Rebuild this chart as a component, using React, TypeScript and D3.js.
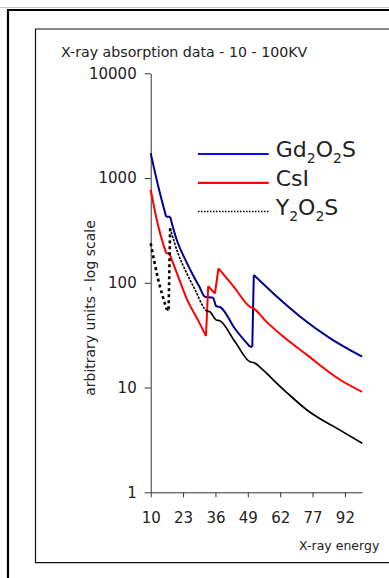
import { useEffect, useRef } from "react";
import * as d3 from "d3";

// energy (keV) tick labels on the category-style x axis
const energyTicks = [10, 23, 36, 49, 62, 77, 92];
const energyEnd = 100;
const valueTicks = [1, 10, 100, 1000, 10000];

// [energy, absorption]
const gd2o2s: [number, number][] = [
  [10, 1722], [13, 840], [16.2, 428], [17.8, 428], [20.5, 255], [23.8, 168], [27, 118],
  [29.5, 92], [31.8, 73.6], [35.0, 72], [36.3, 60], [38.2, 58], [44, 36], [49.9, 24.5],
  [50.8, 24.5], [51.4, 118.7], [59.3, 79], [71.3, 47.5], [85.2, 29.5], [100, 19.7]
];

const csi: [number, number][] = [
  [10, 773], [13, 350], [16.2, 191], [17.5, 191], [21, 115], [25, 66], [29, 44],
  [32.2, 31], [33.1, 93], [35.8, 79], [37.2, 137], [43.3, 92], [49.9, 59], [51.3, 57],
  [56.4, 42.6], [62, 32.5], [74.4, 20.5], [89.9, 11.8], [100, 9.1]
];

const y2o2s: [number, number][] = [
  [10, 238], [13, 108], [16.4, 55.8], [17.2, 55.8], [17.8, 331], [21, 190], [24.5, 123],
  [28, 84], [31.1, 59], [32.2, 54], [33.8, 52.8], [36.3, 44.2], [37.8, 43.4], [44, 27],
  [49.9, 17.6], [51.4, 17.3], [55.2, 14.7], [59.3, 11.8], [66, 8.6], [74.4, 6.1],
  [89.9, 3.9], [100, 2.94]
];

const legendItems = [
  { sub: ["Gd", "2", "O", "2", "S"], color: "#0a0ae0", dash: null },
  { sub: ["CsI"], color: "#ff0000", dash: null },
  { sub: ["Y", "2", "O", "2", "S"], color: "#000000", dash: "1.5,1.5" }
];

// split a series into falling runs so the absorption edges stay sharp
function runs(data: [number, number][]) {
  const out: [number, number][][] = [[data[0]]];
  for (let i = 1; i < data.length; i++) {
    const cur = out[out.length - 1];
    if (data[i][1] < data[i - 1][1]) cur.push(data[i]);
    else out.push([data[i - 1], data[i]], [data[i]]);
  }
  return out.filter(r => r.length > 1);
}

export default function App() {
  const ref = useRef<HTMLDivElement>(null);

  useEffect(() => {
    const width = 389;
    const height = 578;
    const font = "'DejaVu Sans', sans-serif";

    document.body.style.margin = "0";
    document.body.style.overflow = "hidden";

    const x0 = 150.7;
    const step = 32.37;
    const xDomain = [...energyTicks, energyEnd];
    const xRange = xDomain.map((d, i) =>
      i < energyTicks.length ? x0 + i * step : x0 + (i - 1 + (energyEnd - 92) / 15) * step
    );
    const x = d3.scaleLinear().domain(xDomain).range(xRange);
    const y = d3.scaleLog().domain([1, 10000]).range([492.3, 73.3]);

    const svg = d3.select(ref.current)
      .append("svg")
      .attr("width", width)
      .attr("height", height)
      .style("display", "block")
      .style("overflow", "hidden")
      .style("background", "#fff");

    // frames
    svg.append("line").attr("x1", 0).attr("x2", width).attr("y1", 7.5).attr("y2", 7.5)
      .attr("stroke", "#c8c8c8").attr("stroke-width", 1);
    svg.append("path").attr("d", `M${width + 5},10H8V${height + 5}`)
      .attr("fill", "none").attr("stroke", "#000").attr("stroke-width", 2.2);
    svg.append("path").attr("d", `M${width + 5},29H35.5V562.7H${width + 5}`)
      .attr("fill", "none").attr("stroke", "#111").attr("stroke-width", 1.2);

    svg.append("text")
      .attr("x", 61).attr("y", 57.3)
      .attr("font-family", font).attr("font-size", 14.2).attr("fill", "#222")
      .text("X-ray absorption data - 10 - 100KV");

    const yAxis = d3.axisLeft(y).tickValues(valueTicks).tickFormat(d3.format("d"))
      .tickSize(6).tickSizeOuter(0).tickPadding(8);
    const gy = svg.append("g").attr("transform", `translate(${x0},0)`).call(yAxis);

    const xAxis = d3.axisBottom(x).tickValues(energyTicks).tickFormat(d3.format("d"))
      .tickSize(5).tickSizeOuter(0).tickPadding(15);
    const gx = svg.append("g").attr("transform", `translate(0,${y(1)})`).call(xAxis);

    [gx, gy].forEach(g => {
      g.select(".domain").attr("stroke", "#333");
      g.selectAll(".tick line").attr("stroke", "#333");
      g.selectAll("text").attr("font-family", font).attr("font-size", 15).attr("fill", "#222");
    });

    svg.append("text")
      .attr("x", 379.3).attr("y", 549.5).attr("text-anchor", "end")
      .attr("font-family", font).attr("font-size", 12.5).attr("fill", "#222")
      .text("X-ray energy");

    svg.append("text")
      .attr("transform", `translate(95,308) rotate(-90)`)
      .attr("text-anchor", "middle")
      .attr("font-family", font).attr("font-size", 14).attr("fill", "#222")
      .text("arbitrary units - log scale");

    const line = d3.line<[number, number]>()
      .x(d => x(d[0])).y(d => y(d[1]))
      .curve(d3.curveMonotoneX);
    const pathOf = (data: [number, number][]) => runs(data).map(r => line(r)).join("");

    svg.append("path").attr("d", pathOf(gd2o2s))
      .attr("fill", "none").attr("stroke", "#00008b").attr("stroke-width", 2)
      .attr("stroke-linejoin", "round");
    svg.append("path").attr("d", pathOf(csi))
      .attr("fill", "none").attr("stroke", "#ff0000").attr("stroke-width", 2)
      .attr("stroke-linejoin", "round");

    // Y2O2S: dotted line that renders heavy at the start and solid later
    svg.append("path").attr("d", pathOf(y2o2s.filter(d => d[0] <= 17.8)))
      .attr("fill", "none").attr("stroke", "#000").attr("stroke-width", 2.6)
      .attr("stroke-dasharray", "3,3");
    svg.append("path").attr("d", pathOf(y2o2s.filter(d => d[0] >= 17.8 && d[0] <= 32.2)))
      .attr("fill", "none").attr("stroke", "#000").attr("stroke-width", 1.6)
      .attr("stroke-dasharray", "2.5,1.2");
    svg.append("path").attr("d", pathOf(y2o2s.filter(d => d[0] >= 32.2)))
      .attr("fill", "none").attr("stroke", "#000").attr("stroke-width", 1.7);

    // legend
    const lg = svg.append("g").selectAll("g").data(legendItems).join("g")
      .attr("transform", (d, i) => `translate(0,${154 + i * 28.8})`);
    lg.append("line").attr("x1", 198).attr("x2", 268.7).attr("y1", 0).attr("y2", 0)
      .attr("stroke", d => d.color).attr("stroke-width", d => d.dash ? 1.5 : 2.2)
      .attr("stroke-dasharray", d => d.dash);
    const lt = lg.append("text").attr("x", 275.7).attr("y", 3)
      .attr("font-family", font).attr("font-size", 22).attr("fill", "#222");
    lt.selectAll("tspan").data(d => d.sub).join("tspan")
      .attr("font-size", t => t === "2" ? 14 : 22)
      .attr("dy", (t, i) => {
        if (t === "2") return 6;
        return i > 0 ? -6 : 0;
      })
      .text(t => t);

    return () => {
      d3.select(ref.current).selectAll("*").remove();
    };
  }, []);

  return <div ref={ref} />;
}
